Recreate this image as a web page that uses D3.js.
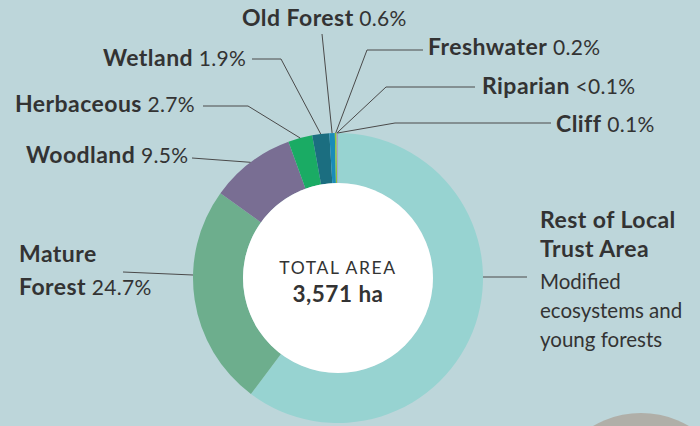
<!DOCTYPE html>
<html>
<head>
<meta charset="utf-8">
<script src="https://cdn.jsdelivr.net/npm/d3@7"></script>
<style>
  html, body { margin: 0; padding: 0; background: #bdd6da; }
  svg { display: block; }
  text { font-family: Lato, "Open Sans", sans-serif; fill: #333; }
</style>
</head>
<body>
<svg id="chart" width="700" height="426"></svg>
<script>
// ---- data ----
const categories = ["Rest of Local Trust Area", "Mature Forest", "Woodland", "Herbaceous", "Wetland", "Old Forest", "Freshwater", "Riparian", "Cliff"];
const values = [60.25, 24.7, 9.5, 2.7, 1.9, 0.6, 0.2, 0.05, 0.1];
const pctLabels = ["", "24.7%", "9.5%", "2.7%", "1.9%", "0.6%", "0.2%", "<0.1%", "0.1%"];
const colors = ["#97d3d1", "#6dae8d", "#796e93", "#1aab64", "#1b6e80", "#1a8cb8", "#8cc43f", "#b0a0cc", "#a39bc9"];
const totalTitle = "TOTAL AREA";
const totalValue = "3,571 ha";

// ---- layout (label placement) ----
const W = 700, H = 426;
const cx = 338, cy = 278, rOuter = 145, rInner = 95;
const labelLayout = {
  "Mature Forest":  { lines: ["Mature", "Forest"], pctLine: 1, x: 19, y: 262, lh: 33, path: [[123, 272]], horiz: true },
  "Woodland":       { lines: ["Woodland"], x: 26, y: 163, path: [[192, 158]] },
  "Herbaceous":     { lines: ["Herbaceous"], x: 15, y: 112, path: [[203, 106], [248, 106]] },
  "Wetland":        { lines: ["Wetland"], x: 103, y: 66, path: [[252, 59], [281, 59]] },
  "Old Forest":     { lines: ["Old Forest"], x: 242, y: 26, path: [[322, 34]] },
  "Freshwater":     { lines: ["Freshwater"], x: 428, y: 55, path: [[423, 50], [367, 50]] },
  "Riparian":       { lines: ["Riparian"], x: 482, y: 94, path: [[475, 87], [386, 87]] },
  "Cliff":          { lines: ["Cliff"], x: 556, y: 132, path: [[551, 123], [395, 123]] }
};
const boldSize = 23, boldSpacing = 0.45, pctSize = 21;

const svg = d3.select("#chart");
svg.append("rect").attr("width", W).attr("height", H).attr("fill", "#bdd6da");

// decorative partial circle bottom right
svg.append("circle").attr("cx", 641).attr("cy", 508).attr("r", 95).attr("fill", "#b0afa8");

const data = categories.map((c, i) => ({ name: c, value: values[i], pct: pctLabels[i], color: colors[i] }));

const pie = d3.pie().value(d => d.value).sort(null).startAngle(0).endAngle(2 * Math.PI);
const arcs = pie(data);
const arc = d3.arc().innerRadius(rInner).outerRadius(rOuter);

const g = svg.append("g").attr("transform", `translate(${cx},${cy})`);
g.selectAll("path.slice").data(arcs).join("path")
  .attr("class", "slice")
  .attr("d", arc)
  .attr("fill", d => d.data.color);

g.append("circle").attr("r", rInner).attr("fill", "#fff");

// center text
svg.append("text").attr("x", cx).attr("y", 274).attr("text-anchor", "middle")
  .attr("font-size", 17.5).attr("letter-spacing", 1.6).text(totalTitle);
svg.append("text").attr("x", cx).attr("y", 302).attr("text-anchor", "middle")
  .attr("font-size", 22.5).attr("letter-spacing", 0.5).attr("font-weight", 700).text(totalValue);

// leader lines & labels
const lines = svg.append("g").attr("fill", "none").attr("stroke", "#4a4a4a").attr("stroke-width", 1);

arcs.forEach(a => {
  const name = a.data.name;
  const mid = (a.startAngle + a.endAngle) / 2;
  let anchor = [cx + rOuter * Math.sin(mid), cy - rOuter * Math.cos(mid)];
  const L = labelLayout[name];
  if (L) {
    let pts = L.path.slice();
    if (L.horiz) {
      const dy = 275 - cy;
      anchor = [cx - Math.sqrt(rOuter * rOuter - dy * dy), 275];
    }
    pts.push(anchor);
    lines.append("path").attr("d", d3.line()(pts));

    const t = svg.append("text").attr("font-size", boldSize);
    L.lines.forEach((ln, i) => {
      t.append("tspan").attr("x", L.x).attr("y", L.y + i * (L.lh || 0))
        .attr("font-weight", 700).attr("letter-spacing", boldSpacing).text(ln);
      const pctLine = L.pctLine !== undefined ? L.pctLine : 0;
      if (i === pctLine) {
        t.append("tspan").attr("font-weight", 400).attr("letter-spacing", 0.3)
          .attr("font-size", pctSize).text("\u00a0" + a.data.pct);
      }
    });
  } else {
    // Rest of Local Trust Area on the right
    const dy = 277 - cy;
    const ax = cx + Math.sqrt(rOuter * rOuter - dy * dy);
    lines.append("path").attr("d", d3.line()([[ax, 277], [527, 277]]));
    const rx = 540;
    const boldLines = ["Rest of Local", "Trust Area"];
    const regLines = ["Modified", "ecosystems and", "young forests"];
    const ys = [228, 257, 289, 318, 347];
    boldLines.forEach((s, i) => svg.append("text").attr("x", rx).attr("y", ys[i])
      .attr("font-size", boldSize).attr("letter-spacing", boldSpacing).attr("font-weight", 700).text(s));
    regLines.forEach((s, i) => svg.append("text").attr("x", rx).attr("y", ys[i + 2])
      .attr("font-size", 20.5).attr("font-weight", 400).text(s));
  }
});
</script>
</body>
</html>
